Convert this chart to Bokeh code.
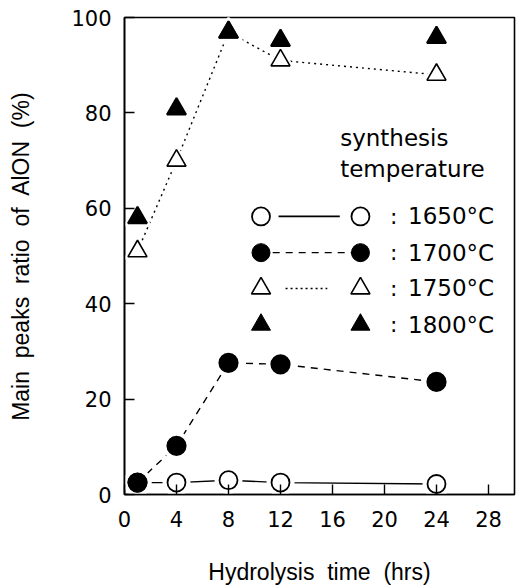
from bokeh.plotting import figure
from bokeh.models import Label, FixedTicker, Range1d
from bokeh.embed import file_html
from bokeh.resources import INLINE

# Hydrolysis time (hrs) and AlON main-peak ratio (%) for each synthesis temperature
hours = [1, 4, 8, 12, 24]
r1650 = [2.5, 2.5, 3.0, 2.5, 2.2]
r1700 = [2.5, 10.2, 27.6, 27.3, 23.6]
r1750 = [51.0, 70.0, 96.9, 91.0, 88.0]
r1800 = [58.0, 80.8, 96.9, 95.2, 95.8]

x_ticks = [0, 4, 8, 12, 16, 20, 24, 28]
y_ticks = [0, 20, 40, 60, 80, 100]
legend_labels = ["1650°C", "1700°C", "1750°C", "1800°C"]
legend_title = ["synthesis", "temperature"]

# wide word spacing (non-breaking so the SVG keeps it)
SP = "\u00a0 "
x_title = SP.join(["Hydrolysis", "time", "(hrs)"])
y_title = SP.join(["Main", "peaks", "ratio", "of", "AlON", "(%)"])

X0, X1 = 0, 30
Y0, Y1 = 0, 100

p = figure(width=525, height=588, output_backend="svg", toolbar_location=None,
           x_range=Range1d(X0, X1), y_range=Range1d(Y0, Y1),
           min_border_left=124, min_border_right=11,
           min_border_top=17, min_border_bottom=94)
p.grid.visible = False
p.background_fill_color = "white"
p.border_fill_color = "white"
p.outline_line_color = "black"
p.outline_line_width = 1.6

for ax in (p.xaxis[0], p.yaxis[0]):
    ax.axis_line_color = "black"
    ax.axis_line_width = 1.6
    ax.major_tick_out = 0
    ax.major_tick_in = 10
    ax.major_tick_line_width = 1.4
    ax.minor_tick_line_color = None
    ax.major_label_text_font = "DejaVu Sans"
    ax.major_label_text_font_size = "21px"
    ax.major_label_text_color = "black"
    ax.axis_label_text_font = "Liberation Sans"
    ax.axis_label_text_font_size = "23px"
    ax.axis_label_text_font_style = "normal"
    ax.axis_label_text_color = "black"

p.xaxis.ticker = FixedTicker(ticks=x_ticks)
p.yaxis.ticker = FixedTicker(ticks=y_ticks)
p.xaxis.major_label_standoff = 16
p.yaxis.major_label_standoff = 13
p.xaxis.axis_label = x_title
p.yaxis.axis_label = y_title
p.xaxis.axis_label_standoff = 29
p.yaxis.axis_label_standoff = 34

# connecting lines
p.line(hours, r1650, line_color="black", line_width=1.4)
p.line(hours, r1700, line_color="black", line_width=1.4, line_dash="7 6")
p.line(hours, r1750, line_color="black", line_width=1.4, line_dash="2 4")

def halo(x, y, marker, size):
    p.scatter(x, y, marker=marker, size=size + 10, fill_color="white", line_color=None)

CS, TS = 18, 19
for ys, mk, sz in ((r1650, "circle", CS), (r1700, "circle", CS),
                   (r1750, "triangle", TS), (r1800, "triangle", TS)):
    halo(hours, ys, mk, sz)

p.scatter(hours, r1650, marker="circle", size=CS, fill_color="white", line_color="black", line_width=1.8)
p.scatter(hours, r1750, marker="triangle", size=TS, fill_color="white", line_color="black", line_width=1.6)
p.scatter(hours, r1700, marker="circle", size=CS, fill_color="black", line_color="black", line_width=2.2)
p.scatter(hours, r1800, marker="triangle", size=TS, fill_color="black", line_color="black", line_width=2.0)

# legend block, positioned as fractions of the axis ranges
def fx(f):
    return X0 + f * (X1 - X0)

def fy(f):
    return Y0 + f * (Y1 - Y0)

rows = [fy(0.583), fy(0.507), fy(0.432), fy(0.356)]
xl, xr = fx(0.35), fx(0.605)
x_colon, x_text = fx(0.69), fx(0.727)

for i, t in enumerate(legend_title):
    p.add_layout(Label(x=fx(0.553), y=fy(0.748 - 0.065 * i), text=t,
                       text_font="DejaVu Sans", text_font_size="23px",
                       text_baseline="middle", text_align="left", text_color="black"))

# 1650 row: open circles, solid line
p.line([fx(0.395), fx(0.552)], [rows[0], rows[0]], line_color="black", line_width=1.6)
p.scatter([xl, xr], [rows[0], rows[0]], marker="circle", size=CS,
          fill_color="white", line_color="black", line_width=1.8)
# 1700 row: filled circles, dashed line
p.line([fx(0.38), fx(0.585)], [rows[1], rows[1]], line_color="black", line_width=1.4, line_dash="7 6")
p.scatter([xl, xr], [rows[1], rows[1]], marker="circle", size=CS,
          fill_color="black", line_color="black")
# 1750 row: open triangles, dotted line
p.line([fx(0.413), fx(0.52)], [rows[2], rows[2]], line_color="black", line_width=1.4, line_dash="2 3")
p.scatter([xl, xr], [rows[2], rows[2]], marker="triangle", size=TS,
          fill_color="white", line_color="black", line_width=1.6)
# 1800 row: filled triangles, no line
p.scatter([xl, xr], [rows[3], rows[3]], marker="triangle", size=TS,
          fill_color="black", line_color="black")

for yv, lab in zip(rows, legend_labels):
    p.add_layout(Label(x=x_colon, y=yv, text=":", text_font="DejaVu Sans",
                       text_font_size="22px", text_baseline="middle",
                       text_align="center", text_color="black"))
    p.add_layout(Label(x=x_text, y=yv, text=lab, text_font="DejaVu Sans",
                       text_font_size="23px", text_baseline="middle",
                       text_align="left", text_color="black"))

open("out.html", "w").write(file_html(p, INLINE))
